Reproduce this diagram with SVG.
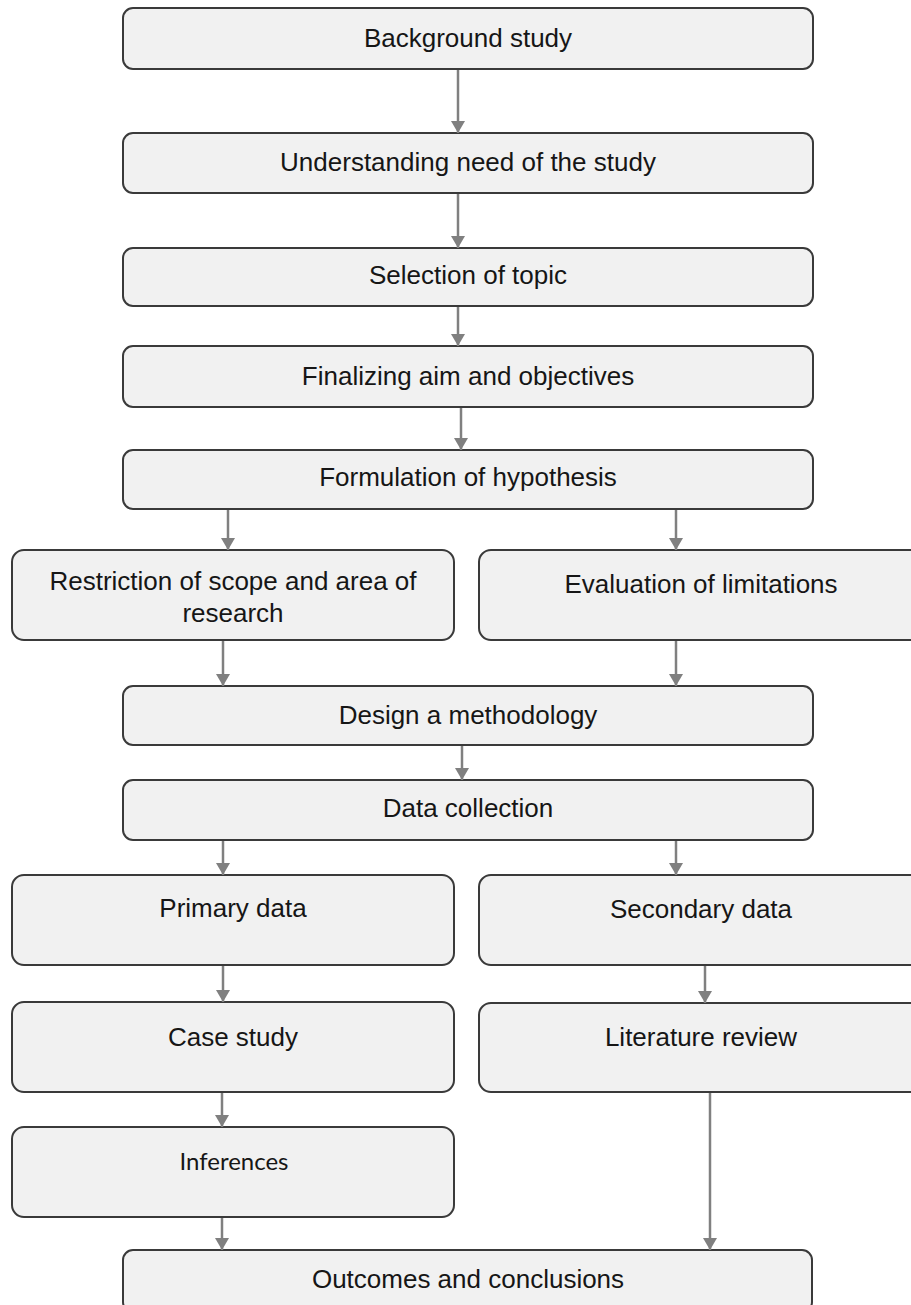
<svg xmlns="http://www.w3.org/2000/svg" width="911" height="1305" viewBox="0 0 911 1305">
<defs>
<style>
.box{fill:#f1f1f1;stroke:#3a3a3a;stroke-width:2}
.t{font-family:"Liberation Sans",Arial,sans-serif;font-size:26px;fill:#161616;text-anchor:middle}
.c{font-family:Lato,"Open Sans",sans-serif;font-size:24px;fill:#161616;text-anchor:middle}
.arr{stroke:#808080;stroke-width:2.5;fill:none;marker-end:url(#ah)}
</style>
<marker id="ah" markerUnits="userSpaceOnUse" markerWidth="13" markerHeight="14" refX="12" refY="7" orient="auto" viewBox="0 0 13 14">
<path d="M0,0 L12,7 L0,14 z" fill="#808080"/>
</marker>
</defs>
<rect width="911" height="1305" fill="#ffffff"/>
<g id="n1"><rect class="box" x="123" y="8" width="690" height="61" rx="10"/><text class="t" x="468" y="47">Background study</text></g>
<g id="n2"><rect class="box" x="123" y="133" width="690" height="60" rx="10"/><text class="t" x="468" y="171">Understanding need of the study</text></g>
<g id="n3"><rect class="box" x="123" y="248" width="690" height="58" rx="10"/><text class="t" x="468" y="284">Selection of topic</text></g>
<g id="n4"><rect class="box" x="123" y="346" width="690" height="61" rx="10"/><text class="t" x="468" y="385">Finalizing aim and objectives</text></g>
<g id="n5"><rect class="box" x="123" y="450" width="690" height="59" rx="10"/><text class="t" x="468" y="486">Formulation of hypothesis</text></g>
<g id="n6"><rect class="box" x="12" y="550" width="442" height="90" rx="12"/><text class="t" x="233" y="590">Restriction of scope and area of</text><text class="t" x="233" y="622">research</text></g>
<g id="n7"><rect class="box" x="479" y="550" width="443" height="90" rx="12"/><text class="t" x="701" y="593">Evaluation of limitations</text></g>
<g id="n8"><rect class="box" x="123" y="686" width="690" height="59" rx="10"/><text class="t" x="468" y="724">Design a methodology</text></g>
<g id="n9"><rect class="box" x="123" y="780" width="690" height="60" rx="10"/><text class="t" x="468" y="817">Data collection</text></g>
<g id="n10"><rect class="box" x="12" y="875" width="442" height="90" rx="12"/><text class="t" x="233" y="917">Primary data</text></g>
<g id="n11"><rect class="box" x="479" y="875" width="443" height="90" rx="12"/><text class="t" x="701" y="918">Secondary data</text></g>
<g id="n12"><rect class="box" x="12" y="1002" width="442" height="90" rx="12"/><text class="t" x="233" y="1046">Case study</text></g>
<g id="n13"><rect class="box" x="479" y="1003" width="443" height="89" rx="12"/><text class="t" x="701" y="1046">Literature review</text></g>
<g id="n14"><rect class="box" x="12" y="1127" width="442" height="90" rx="12"/><text class="c" x="234" y="1170">Inferences</text></g>
<g id="n15"><rect class="box" x="123" y="1250" width="689" height="62" rx="10"/><text class="t" x="468" y="1288">Outcomes and conclusions</text></g>
<g id="connectors">
<line class="arr" x1="458" y1="70" x2="458" y2="133"/>
<line class="arr" x1="458" y1="194" x2="458" y2="248"/>
<line class="arr" x1="458" y1="307" x2="458" y2="346"/>
<line class="arr" x1="461" y1="408" x2="461" y2="450"/>
<line class="arr" x1="228" y1="510" x2="228" y2="550"/>
<line class="arr" x1="676" y1="510" x2="676" y2="550"/>
<line class="arr" x1="223" y1="641" x2="223" y2="686"/>
<line class="arr" x1="676" y1="641" x2="676" y2="686"/>
<line class="arr" x1="462" y1="746" x2="462" y2="780"/>
<line class="arr" x1="223" y1="841" x2="223" y2="875"/>
<line class="arr" x1="676" y1="841" x2="676" y2="875"/>
<line class="arr" x1="223" y1="966" x2="223" y2="1002"/>
<line class="arr" x1="705" y1="966" x2="705" y2="1003"/>
<line class="arr" x1="222" y1="1093" x2="222" y2="1127"/>
<line class="arr" x1="222" y1="1218" x2="222" y2="1250"/>
<line class="arr" x1="710" y1="1093" x2="710" y2="1250"/>
</g>
</svg>
